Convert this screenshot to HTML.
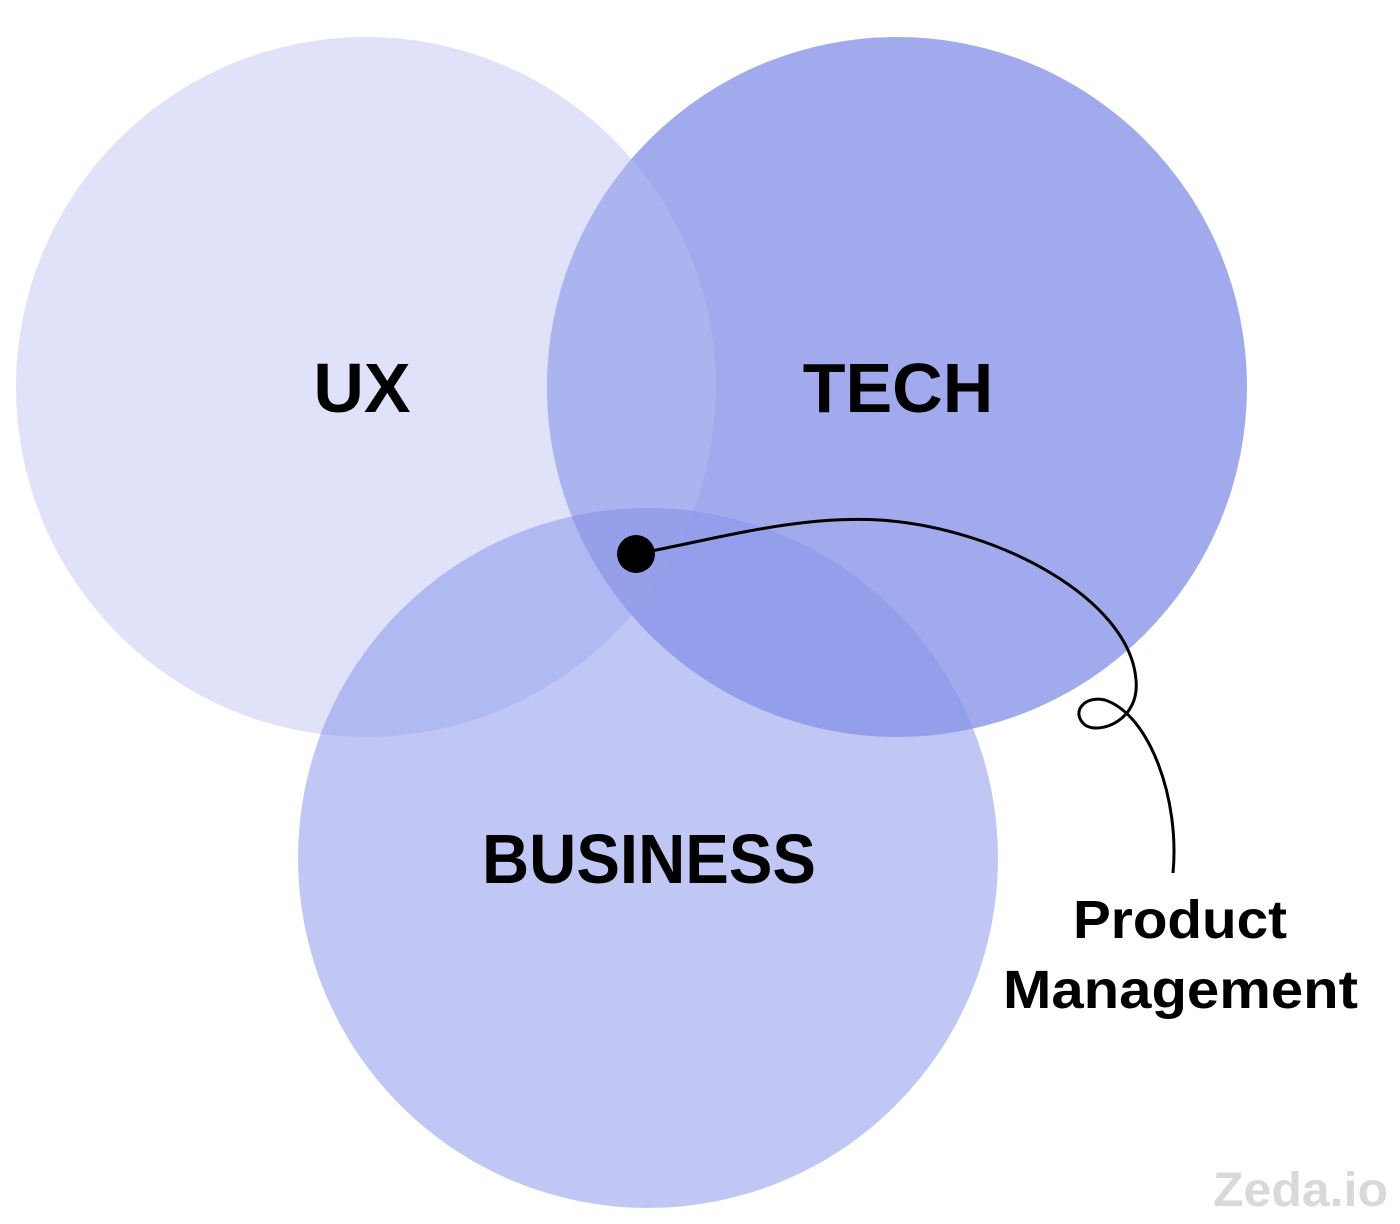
<!DOCTYPE html>
<html><head><style>
body{margin:0;background:#fff;}
svg{display:block;}
text{font-family:"Liberation Sans",sans-serif;font-weight:bold;fill:#000;}
</style></head><body>
<svg width="1400" height="1224" viewBox="0 0 1400 1224">
<defs>
<clipPath id="u"><circle cx="366" cy="387" r="350"/></clipPath>
<clipPath id="t"><circle cx="897" cy="387" r="350"/></clipPath>
<clipPath id="b"><circle cx="648" cy="858" r="350"/></clipPath>
</defs>
<rect width="1400" height="1224" fill="#fff"/>
<circle cx="366" cy="387" r="350" fill="#dfe2f8"/>
<circle cx="897" cy="387" r="350" fill="#a0aaec"/>
<circle cx="648" cy="858" r="350" fill="#c1c7f4"/>
<circle cx="897" cy="387" r="350" fill="#aab4ef" clip-path="url(#u)"/>
<circle cx="648" cy="858" r="350" fill="#b0b9f1" clip-path="url(#u)"/>
<circle cx="648" cy="858" r="350" fill="#939fea" clip-path="url(#t)"/>
<g clip-path="url(#u)"><circle cx="648" cy="858" r="350" fill="#959fea" clip-path="url(#t)"/></g>
<text x="362" y="412" font-size="70" text-anchor="middle">UX</text>
<text x="898" y="412" font-size="70" text-anchor="middle">TECH</text>
<text x="482" y="883" font-size="70" textLength="334" lengthAdjust="spacingAndGlyphs">BUSINESS</text>
<circle cx="636" cy="554" r="19" fill="#000"/>
<path d="M636,554 C720,538 800,515 880,520 C1000,528 1130,600 1136,680 C1140,720 1100,735 1085,725 C1070,712 1085,695 1105,700 C1150,715 1180,800 1173,873" fill="none" stroke="#000" stroke-width="3"/>
<text x="1073" y="938" font-size="54" textLength="214" lengthAdjust="spacingAndGlyphs">Product</text>
<text x="1003" y="1008" font-size="54" textLength="355" lengthAdjust="spacingAndGlyphs">Management</text>
<text x="1213" y="1206" font-size="48" textLength="175" lengthAdjust="spacingAndGlyphs" style="fill:#d9d9d9">Zeda.io</text>
</svg>
</body></html>
